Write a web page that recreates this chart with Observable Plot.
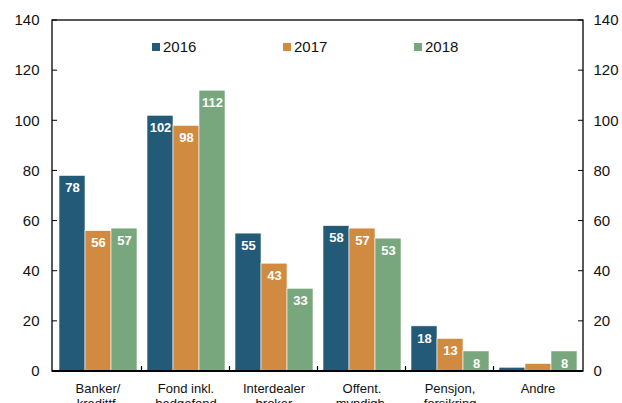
<!DOCTYPE html>
<html>
<head>
<meta charset="utf-8">
<script src="https://cdn.jsdelivr.net/npm/d3@7"></script>
<script src="https://cdn.jsdelivr.net/npm/@observablehq/plot@0.6"></script>
<style>
  html, body { margin: 0; padding: 0; background: #fff; overflow: hidden; }
  #wrap { position: relative; width: 622px; height: 403px; font-family: "Liberation Sans", Arial, sans-serif; }
  #legend { position: absolute; left: 152px; top: 38px; display: flex; font-size: 15px; color: #111; line-height: 18px; }
  #legend .item { display: flex; align-items: center; width: 131px; }
  #legend .sw { width: 8px; height: 8px; margin-right: 3px; }
</style>
</head>
<body>
<div id="wrap"><div id="legend"></div></div>
<script>
const categories = ["Banker/\nkredittf.", "Fond inkl.\nhedgefond", "Interdealer\nbroker", "Offent.\nmyndigh.", "Pensjon,\nforsikring", "Andre"];
const years = ["2016", "2017", "2018"];
const values2016 = [78, 102, 55, 58, 18, 1.5];
const values2017 = [56, 98, 43, 57, 13, 3];
const values2018 = [57, 112, 33, 53, 8, 8];
const showLabel2016 = [true, true, true, true, true, false];
const showLabel2017 = [true, true, true, true, true, false];
const showLabel2018 = [true, true, true, true, true, true];
const yTicks = [0, 20, 40, 60, 80, 100, 120, 140];
const colors = ["#225a78", "#d08b40", "#78a77d"];

const series = [values2016, values2017, values2018];
const shows = [showLabel2016, showLabel2017, showLabel2018];
const data = [];
categories.forEach((cat, i) => {
  years.forEach((yr, j) => {
    data.push({cat, year: yr, value: series[j][i], show: shows[j][i]});
  });
});

const W = 622, H = 420, ML = 52, MR = 39, MT = 20, MB = 49;
const font = "'Liberation Sans', Arial, sans-serif";

const plot = Plot.plot({
  width: W, height: H,
  marginLeft: ML, marginRight: MR, marginTop: MT, marginBottom: MB,
  style: {fontFamily: font, fontSize: "15px", color: "#111", background: "white", overflow: "visible"},
  fx: {domain: categories, paddingInner: 0.1, paddingOuter: 0.05, label: null},
  x: {domain: years, padding: 0, axis: null},
  y: {domain: [0, 140], label: null},
  color: {domain: years, range: colors},
  marks: [
    Plot.barY(data, {fx: "cat", x: "year", y: "value", fill: "year", stroke: "white", strokeWidth: 0.6}),
    Plot.text(data.filter(d => d.show), {
      fx: "cat", x: "year", y: "value", text: d => String(d.value),
      dy: 12, fill: "white", fontWeight: "bold", fontSize: 13
    }),
    Plot.axisY(yTicks, {anchor: "left", tickSize: 0, tickPadding: 19, fontSize: 15, label: null}),
    Plot.axisY(yTicks, {anchor: "right", tickSize: 0, tickPadding: 16, fontSize: 15, label: null}),
    Plot.axisFx({anchor: "bottom", tickSize: 0, tickPadding: 11, fontSize: 13, lineHeight: 1.15, label: null})
  ]
});

// frame, inward y ticks and category boundary ticks, from the plot's own scales
const ys = plot.scale("y");
const fxs = plot.scale("fx");
const svg = d3.select(plot);
const y0 = ys.apply(0), yTop = ys.apply(140);
const xL = ML, xR = W - MR;
const g = svg.append("g").attr("fill", "none").attr("stroke", "#000");
g.append("rect").attr("x", xL).attr("y", yTop).attr("width", xR - xL).attr("height", y0 - yTop).attr("stroke-width", 1.3);
g.append("line").attr("x1", xL).attr("x2", xR).attr("y1", y0).attr("y2", y0).attr("stroke-width", 2);
yTicks.forEach(t => {
  const ty = ys.apply(t);
  g.append("line").attr("x1", xL).attr("x2", xL + 5).attr("y1", ty).attr("y2", ty).attr("stroke-width", 1);
  g.append("line").attr("x1", xR).attr("x2", xR - 5).attr("y1", ty).attr("y2", ty).attr("stroke-width", 1);
});
const step = fxs.step, bw = fxs.bandwidth;
categories.slice(0, -1).forEach(c => {
  const bx = fxs.apply(c) + bw + (step - bw) / 2;
  g.append("line").attr("x1", bx).attr("x2", bx).attr("y1", y0).attr("y2", y0 - 5).attr("stroke-width", 1.2);
});

document.getElementById("wrap").prepend(plot);

const legend = document.getElementById("legend");
years.forEach((yr, j) => {
  const item = document.createElement("div");
  item.className = "item";
  item.innerHTML = `<span class="sw" style="background:${colors[j]}"></span><span>${yr}</span>`;
  legend.appendChild(item);
});
</script>
</body>
</html>
